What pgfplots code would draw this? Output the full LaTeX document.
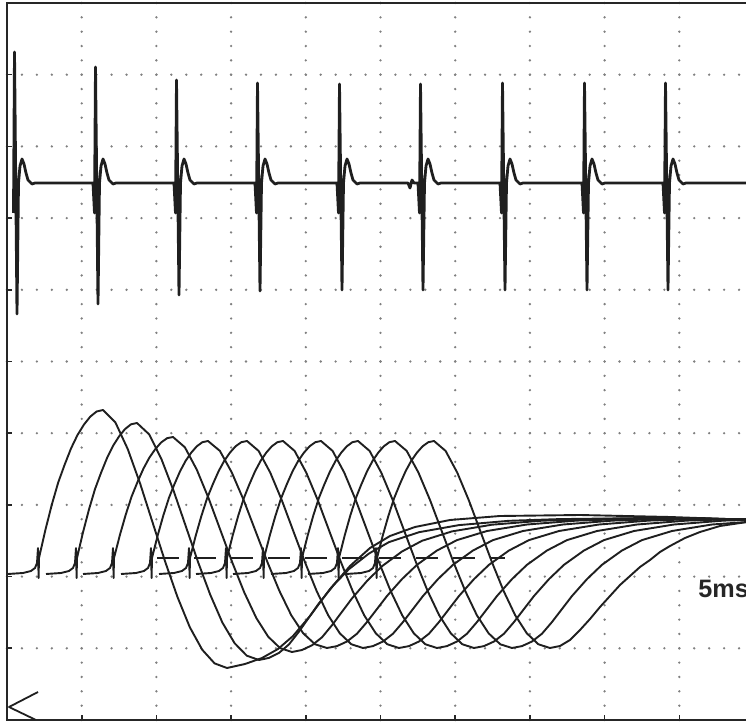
\documentclass[border=0pt]{standalone}
\usepackage{fontspec}
\setmainfont{Liberation Sans}
\usepackage{pgfplots}
\pgfplotsset{compat=1.18}
\begin{document}
\begin{tikzpicture}[trace/.style={black!88, solid, no markers, line width=0.95pt, line join=round}]
\begin{axis}[name=ax, width=373.5pt, height=358.5pt, scale only axis,
  xmin=7, xmax=754, ymin=3, ymax=720, y dir=reverse,
  xtick={81.7,156.4,231.1,305.8,380.5,455.2,529.9,604.6,679.3},
  ytick={74.7,146.4,218.1,289.8,361.5,433.2,504.9,576.6,648.3},
  xticklabels={}, yticklabels={},
  xtick pos=left, ytick pos=left, tick align=inside, major tick length=2.5pt,
  tick style={black!85, line width=0.8pt},
  grid=major,
  major x grid style={draw=black!50, line width=1.3pt, line cap=round, dash pattern=on 0pt off 7.17pt},
  major y grid style={draw=black!50, line width=1.3pt, line cap=round, dash pattern=on 0pt off 7.47pt},
  axis line style={line width=1.1pt, black!85},
  clip mode=individual,
]
% upper trace
\addplot[trace, line width=1.4pt] coordinates {
(13.5,213) (14.5,52) (17,314) (18.5,183) (20,166) (22,159) (24,164) (26,173) (28,180) (32,184) (35,183)
(93,183) (94.5,213) (95.5,67) (98,304) (99.5,183) (101,166) (103,159) (105,164) (107,173) (109,180) (113,184) (116,183)
(174,183) (175.5,213) (176.5,80) (179,295) (180.5,183) (182,166) (184,159) (186,164) (188,173) (190,180) (194,184) (197,183)
(255,183) (256.5,213) (257.5,83) (260,291) (261.5,183) (263,166) (265,159) (267,164) (269,173) (271,180) (275,184) (278,183)
(337,183) (338.5,213) (339.5,84) (342,290) (343.5,183) (345,166) (347,159) (349,164) (351,173) (353,180) (357,184) (360,183)
(408,183) (410,188) (412,180) (414,183)
(418,183) (419.5,213) (420.5,84) (423,290) (424.5,183) (426,166) (428,159) (430,164) (432,173) (434,180) (438,184) (441,183)
(500,183) (501.5,213) (502.5,83) (505,290) (506.5,183) (508,166) (510,159) (512,164) (514,173) (516,180) (520,184) (523,183)
(582,183) (583.5,213) (584.5,83) (587,290) (588.5,183) (590,166) (592,159) (594,164) (596,173) (598,180) (602,184) (605,183)
(663,183) (664.5,213) (665.5,83) (668,290) (669.5,183) (671,166) (673,159) (675,164) (677,173) (679,180) (683,184) (686,183)
(754,183)};
% lower family
\addplot[trace] coordinates {
(8,574) (23,573) (31,571) (35,568) (37,563) (38,548) (38.6,578) (39,558)
(45.4,529.9) (51.8,504.7) (58.2,482.5) (64.6,464.8) (71,448.5) (77.4,435.2) (83.8,424.8) (90.2,416.7) (96.6,411.5) (103,410)
(115.4,422.4) (127.8,449.2) (140.2,483.8) (152.6,522.5) (165,561.2) (177.4,596.8) (189.8,627.2) (202.2,649.7) (214.6,663.4) (227,668)
(245,664) (262,658) (278,649) (293,636) (310,616) (330,589) (350,566) (370,548) (390,536) (415,527) (450,520) (500,516) (580,515) (670,517) (754,520)};
\addplot[trace] coordinates {
(46,574) (61,573) (69,571) (73,568) (75,563) (76,548) (76.6,578) (77,558)
(83,532.3) (89,509.4) (95,489.1) (101,472.9) (107,458.1) (113,445.9) (119,436.5) (125,429.1) (131,424.3) (137,423)
(149.2,434.4) (161.4,459) (173.6,490.8) (185.8,526.3) (198,561.9) (210.2,594.6) (222.4,622.6) (234.6,643.2) (246.8,655.7) (259,660)
(269,657.9) (279,652.9) (289,644.4) (299,631.6) (309,617.4) (319,603.2) (334,584.7) (349,569.1) (369,553.5) (389,542.1) (419,532.2) (459,525.1) (509,520.8) (559,519.1) (650,518) (754,520)};
\addplot[trace] coordinates {
(83,574) (98,573) (106,571) (110,568) (112,563) (113,548) (113.6,578) (114,558)
(119.9,535) (125.8,514.4) (131.7,496.3) (137.6,481.8) (143.5,468.5) (149.4,457.6) (155.3,449.1) (161.2,442.4) (167.1,438.2) (173,437)
(184.9,447.3) (196.8,469.7) (208.7,498.5) (220.6,530.7) (232.5,563) (244.4,592.7) (256.3,618) (268.2,636.7) (280.1,648.1) (292,652)
(302,650) (312,645.3) (322,637.3) (332,625.2) (342,611.8) (352,598.4) (367,581) (382,566.2) (402,551.5) (422,540.8) (452,531.4) (492,524.7) (542,520.7) (592,519.1) (670,518) (754,520)};
\addplot[trace] coordinates {
(121,574) (136,573) (144,571) (148,568) (150,563) (151,548) (151.6,578) (152,558)
(157.6,535.8) (163.2,515.9) (168.8,498.3) (174.4,484.3) (180,471.4) (185.6,460.9) (191.2,452.7) (196.8,446.3) (202.4,442.2) (208,441)
(219.9,450.9) (231.8,472.5) (243.7,500.2) (255.6,531.3) (267.5,562.3) (279.4,590.9) (291.3,615.3) (303.2,633.3) (315.1,644.3) (327,648)
(337,646.1) (347,641.5) (357,633.7) (367,622) (377,609) (387,596) (402,579.1) (417,564.8) (437,550.5) (457,540.1) (487,531) (527,524.5) (577,520.6) (627,519) (700,518) (754,520)};
\addplot[trace] coordinates {
(159,574) (174,573) (182,571) (186,568) (188,563) (189,548) (189.6,578) (190,558)
(195.7,535.8) (201.4,515.9) (207.1,498.3) (212.8,484.3) (218.5,471.4) (224.2,460.9) (229.9,452.7) (235.6,446.3) (241.3,442.2) (247,441)
(258.6,450.9) (270.2,472.5) (281.8,500.2) (293.4,531.3) (305,562.3) (316.6,590.9) (328.2,615.3) (339.8,633.3) (351.4,644.3) (363,648)
(373,646.1) (383,641.5) (393,633.7) (403,622) (413,609) (423,596) (438,579.1) (453,564.8) (473,550.5) (493,540.1) (523,531) (563,524.5) (613,520.6) (663,519) (754,520)};
\addplot[trace] coordinates {
(196,574) (211,573) (219,571) (223,568) (225,563) (226,548) (226.6,578) (227,558)
(232.6,535.8) (238.2,515.9) (243.8,498.3) (249.4,484.3) (255,471.4) (260.6,460.9) (266.2,452.7) (271.8,446.3) (277.4,442.2) (283,441)
(294.6,450.9) (306.2,472.5) (317.8,500.2) (329.4,531.3) (341,562.3) (352.6,590.9) (364.2,615.3) (375.8,633.3) (387.4,644.3) (399,648)
(409,646.1) (419,641.5) (429,633.7) (439,622) (449,609) (459,596) (474,579.1) (489,564.8) (509,550.5) (529,540.1) (559,531) (599,524.5) (649,520.6) (699,519) (754,519.5)};
\addplot[trace] coordinates {
(233,574) (248,573) (256,571) (260,568) (262,563) (263,548) (263.6,578) (264,558)
(269.7,535.8) (275.4,515.9) (281.1,498.3) (286.8,484.3) (292.5,471.4) (298.2,460.9) (303.9,452.7) (309.6,446.3) (315.3,442.2) (321,441)
(332.6,450.9) (344.2,472.5) (355.8,500.2) (367.4,531.3) (379,562.3) (390.6,590.9) (402.2,615.3) (413.8,633.3) (425.4,644.3) (437,648)
(447,646.1) (457,641.5) (467,633.7) (477,622) (487,609) (497,596) (512,579.1) (527,564.8) (547,550.5) (567,540.1) (597,531) (637,524.5) (687,520.6) (737,519) (754,519)};
\addplot[trace] coordinates {
(271,574) (286,573) (294,571) (298,568) (300,563) (301,548) (301.6,578) (302,558)
(307.6,535.8) (313.2,515.9) (318.8,498.3) (324.4,484.3) (330,471.4) (335.6,460.9) (341.2,452.7) (346.8,446.3) (352.4,442.2) (358,441)
(369.6,450.9) (381.2,472.5) (392.8,500.2) (404.4,531.3) (416,562.3) (427.6,590.9) (439.2,615.3) (450.8,633.3) (462.4,644.3) (474,648)
(484,646.1) (494,641.5) (504,633.7) (514,622) (524,609) (534,596) (549,579.1) (564,564.8) (584,550.5) (604,540.1) (634,531) (674,524.5) (724,520.6) (754,519.8)};
\addplot[trace] coordinates {
(308,574) (323,573) (331,571) (335,568) (337,563) (338,548) (338.6,578) (339,558)
(344.6,535.8) (350.2,515.9) (355.8,498.3) (361.4,484.3) (367,471.4) (372.6,460.9) (378.2,452.7) (383.8,446.3) (389.4,442.2) (395,441)
(406.7,450.9) (418.4,472.5) (430.1,500.2) (441.8,531.3) (453.5,562.3) (465.2,590.9) (476.9,615.3) (488.6,633.3) (500.3,644.3) (512,648)
(522,646.1) (532,641.5) (542,633.7) (552,622) (562,609) (572,596) (587,579.1) (602,564.8) (622,550.5) (642,540.1) (672,531) (712,524.5) (754,521.5)};
\addplot[trace] coordinates {
(346,574) (361,573) (369,571) (373,568) (375,563) (376,548) (376.6,578) (377,558)
(382.7,535.8) (388.4,515.9) (394.1,498.3) (399.8,484.3) (405.5,471.4) (411.2,460.9) (416.9,452.7) (422.6,446.3) (428.3,442.2) (434,441)
(445.6,450.9) (457.2,472.5) (468.8,500.2) (480.4,531.3) (492,562.3) (503.6,590.9) (515.2,615.3) (526.8,633.3) (538.4,644.3) (550,648)
(560,646) (570,640) (580,630) (590,619) (600,607) (610,596) (620,585) (630,576) (640,567) (650,560) (660,552) (670,546) (685,538) (700,532) (720,526) (754,521)};
% dashed reference and marker
\addplot[trace, dash pattern=on 11pt off 7.5pt] coordinates {(157,558) (505,558)};
\addplot[trace, line width=0.9pt] coordinates {(38,692) (9,707) (36,720)};
\node[anchor=base west, inner sep=0pt, text=black!85, font=\bfseries\fontsize{12.6}{14}\selectfont] at (axis cs:698,598) {5ms};
\end{axis}
\pgfresetboundingbox
\path[use as bounding box] (ax.south west) ++(-3.5pt,-1pt) rectangle ++(373pt,361pt);
\end{tikzpicture}
\end{document}
